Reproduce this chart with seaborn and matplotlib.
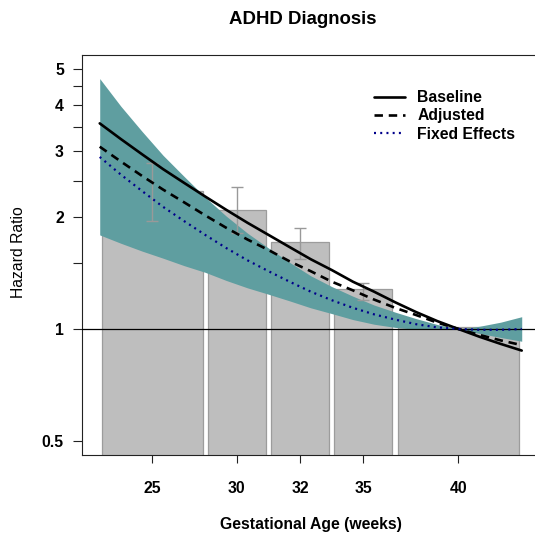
import numpy as np
import pandas as pd
import matplotlib
matplotlib.use("Agg")
import matplotlib.pyplot as plt
from matplotlib.lines import Line2D
from matplotlib.ticker import FixedLocator, FixedFormatter, NullFormatter
import seaborn as sns

# Hazard-ratio curves by gestational week (reference: 40 weeks)
weeks = list(range(23, 44))
baseline = [3.57, 3.24, 2.95, 2.69, 2.47, 2.27, 2.09, 1.93, 1.79, 1.66, 1.54,
            1.44, 1.34, 1.26, 1.18, 1.11, 1.05, 1.00, 0.953, 0.912, 0.875]
adjusted = [3.09, 2.82, 2.58, 2.37, 2.19, 2.02, 1.87, 1.74, 1.63, 1.52, 1.43,
            1.34, 1.27, 1.20, 1.14, 1.09, 1.04, 1.00, 0.964, 0.932, 0.905]
fixed_effects = [2.90, 2.60, 2.35, 2.13, 1.95, 1.79, 1.65, 1.53, 1.43, 1.34, 1.26,
                 1.195, 1.14, 1.095, 1.06, 1.03, 1.01, 1.00, 0.995, 0.995, 1.00]
fe_upper = [4.71, 3.97, 3.40, 2.93, 2.57, 2.26, 2.01, 1.81, 1.65, 1.51, 1.39,
            1.30, 1.225, 1.16, 1.11, 1.066, 1.028, 1.00, 1.017, 1.043, 1.079]
fe_lower = [1.79, 1.70, 1.62, 1.55, 1.48, 1.42, 1.35, 1.29, 1.24, 1.19, 1.14,
            1.10, 1.06, 1.03, 1.01, 0.998, 0.997, 1.00, 0.973, 0.949, 0.927]

# Categorical gestational-age groups
bin_edges = [23, 28, 31, 34, 37, 43]
bin_labels = ["25", "30", "32", "35", "40"]
bar_hr = [2.34, 2.08, 1.70, 1.27, 1.00]
bar_lo = [1.95, 1.81, 1.54, 1.20, np.nan]
bar_hi = [2.79, 2.41, 1.87, 1.33, np.nan]

sns.set_style("ticks")
plt.rcParams["font.family"] = ["Liberation Sans", "DejaVu Sans"]
plt.rcParams.update({"text.color": "black", "axes.labelcolor": "black",
                     "xtick.color": "black", "ytick.color": "black"})

W, H = 535, 540
fig = plt.figure(figsize=(W / 100, H / 100), dpi=100)
ax = fig.add_axes([82 / W, 85 / H, 456.6 / W, 400 / H])
ax.set_facecolor("white")
ax.set_yscale("log")
ax.set_xlim(22.16, 43.80)
ax.set_ylim(0.4585, 5.45)

edges = np.array(bin_edges, dtype=float)
lefts, rights = edges[:-1], edges[1:]
centers = (lefts + rights) / 2
gap = 0.125
ax.bar(lefts + gap, bar_hr, width=(rights - lefts) - 2 * gap, bottom=0.01,
       align="edge", color="#BEBEBE", edgecolor="#9C9C9C", linewidth=0.9, zorder=1)

ax.fill_between(weeks, fe_lower, fe_upper, color="#5F9EA0", linewidth=0, zorder=2)

hr = np.array(bar_hr)
ok = ~np.isnan(np.array(bar_lo))
yerr = np.vstack([hr[ok] - np.array(bar_lo)[ok], np.array(bar_hi)[ok] - hr[ok]])
ax.errorbar(centers[ok], hr[ok], yerr=yerr, fmt="none", ecolor="#999999",
            elinewidth=1.0, capsize=4.6, capthick=1.0, zorder=3)

ax.axhline(1.0, color="black", linewidth=0.9, zorder=4)

curves = pd.DataFrame({"week": weeks, "Baseline": baseline,
                       "Adjusted": adjusted, "Fixed Effects": fixed_effects})
styles = {
    "Baseline": dict(color="black", linewidth=1.9, linestyle="-"),
    "Adjusted": dict(color="black", linewidth=1.9, linestyle=(0, (3.2, 2.2))),
    "Fixed Effects": dict(color="#00008B", linewidth=1.6, linestyle=(0, (0.9, 1.9))),
}
for name, st in styles.items():
    sns.lineplot(data=curves, x="week", y=name, ax=ax, legend=False, zorder=5,
                 **st)

# Axes styling
ax.set_xlabel("")
ax.set_ylabel("")
ax.xaxis.set_major_locator(FixedLocator(centers))
ax.xaxis.set_major_formatter(FixedFormatter(bin_labels))
ax.xaxis.set_minor_locator(FixedLocator([]))
ax.yaxis.set_major_locator(FixedLocator([0.5, 1, 2, 3, 4, 5]))
ax.yaxis.set_major_formatter(FixedFormatter(["0.5", "1", "2", "3", "4", "5"]))
ax.yaxis.set_minor_locator(FixedLocator([1.5, 2.5, 3.5, 4.5]))
ax.yaxis.set_minor_formatter(NullFormatter())

tick_font = 11.3
ax.tick_params(axis="x", which="major", length=6.0, width=0.8, color="#222222",
               pad=12.5, labelsize=tick_font, labelcolor="black")
ax.tick_params(axis="y", which="both", length=6.5, width=0.8, color="#222222",
               pad=6.5, labelsize=tick_font, labelcolor="black")
for lab in ax.get_xticklabels() + ax.get_yticklabels():
    lab.set_fontweight("bold")

for side in ["left", "bottom", "top", "right"]:
    ax.spines[side].set_visible(True)
    ax.spines[side].set_color("#222222")
    ax.spines[side].set_linewidth(0.8)

fig.text(303 / W, 1 - 19 / H, "ADHD Diagnosis", ha="center", va="center",
         fontsize=13.4, fontweight="bold", color="black")
fig.text(310.5 / W, 1 - 524 / H, "Gestational Age (weeks)", ha="center",
         va="center", fontsize=tick_font, fontweight="bold", color="black")
fig.text(18.5 / W, 1 - 252 / H, "Hazard Ratio", ha="center", va="center",
         rotation=90, fontsize=tick_font, color="black")

handles = [Line2D([], [], **st) for st in styles.values()]
leg = ax.legend(handles, list(styles.keys()), loc="upper left",
                bbox_to_anchor=(374 / W, 1 - 90 / H), bbox_transform=fig.transFigure,
                frameon=False, borderpad=0, borderaxespad=0, handlelength=1.95,
                handletextpad=0.8, labelspacing=0.22,
                prop={"weight": "bold", "size": tick_font})
for t in leg.get_texts():
    t.set_color("black")

fig.savefig("out.png", dpi=100, facecolor="white")
